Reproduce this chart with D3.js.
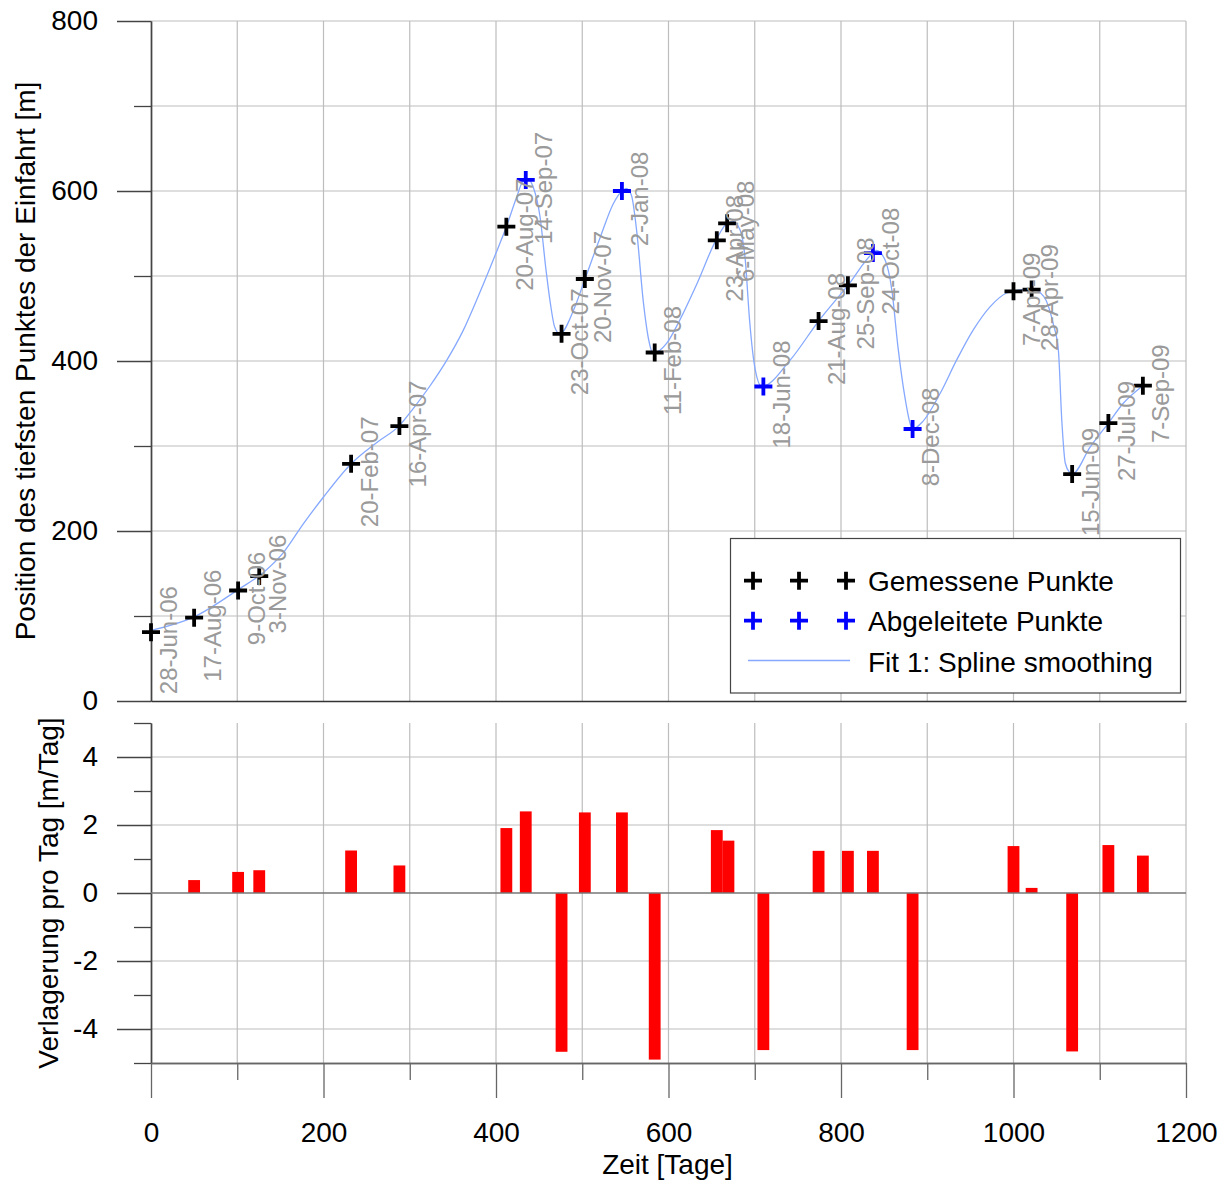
<!DOCTYPE html>
<html><head><meta charset="utf-8">
<script src="https://cdn.jsdelivr.net/npm/d3@7"></script>
<style>
body{margin:0;background:#fff}
svg{display:block}
text{font-family:"Liberation Sans",Arial,Helvetica,sans-serif}
</style>
</head><body>
<svg id="c" width="1227" height="1180"></svg>
<script>
// ---------- data ----------
const measuredDays   = [0, 50, 101, 125.5, 232, 288, 412, 476, 503, 584, 656, 668, 774, 808, 1000, 1021, 1068, 1110, 1150];
const measuredValues = [81, 98, 130, 147, 279, 323.5, 558, 432, 496.5, 410, 542, 562, 447, 489, 482, 484, 267, 327, 371];
const measuredLabels = ["28-Jun-06","17-Aug-06","9-Oct-06","3-Nov-06","20-Feb-07","16-Apr-07","20-Aug-07","23-Oct-07","20-Nov-07","11-Feb-08","23-Apr-08","6-May-08","21-Aug-08","25-Sep-08","7-Apr-09","28-Apr-09","15-Jun-09","27-Jul-09","7-Sep-09"];

const derivedDays   = [434.5, 546, 710, 837, 883];
const derivedValues = [613, 600, 370, 527, 320];
const derivedLabels = ["14-Sep-07","2-Jan-08","18-Jun-08","24-Oct-08","8-Dec-08"];

const fitDays   = [0, 50, 101, 130, 153, 177, 200, 231, 263, 288, 304, 323, 343, 362, 381, 400, 412, 424, 431, 437, 443, 451, 458, 463, 468, 474, 490, 503, 521, 536, 546, 551, 557, 563, 571, 577, 582, 598, 613, 633, 656, 668, 675, 683, 689, 694, 700, 708, 741, 774, 808, 837, 841, 851, 859, 866, 874, 880, 883, 895, 915, 934, 953, 973, 992, 1000, 1021, 1035, 1046, 1052, 1056, 1060, 1065, 1068, 1089, 1110, 1127, 1150];
const fitValues = [83, 99, 131, 151, 174, 209, 240, 278, 305, 324, 344, 370, 401, 436, 480, 527, 558, 593, 611, 614, 605, 570, 507, 468, 440, 432, 460, 496, 546, 585, 600, 603, 595, 554, 468, 425, 409, 421, 448, 491, 544, 562, 564, 554, 519, 448, 393, 370, 401, 447, 489, 527, 530, 519, 483, 417, 358, 327, 320, 329, 362, 401, 436, 464, 480, 482, 485, 476, 444, 413, 330, 280, 269, 267, 299, 327, 350, 371];

const barDays   = [50, 101, 125.5, 232, 288, 412, 434.5, 476, 503, 546, 584, 656, 669.5, 710, 774, 808, 837, 883, 1000, 1021, 1068, 1110, 1150];
const barValues = [0.38, 0.62, 0.67, 1.25, 0.81, 1.91, 2.40, -4.67, 2.37, 2.37, -4.90, 1.85, 1.54, -4.62, 1.24, 1.24, 1.24, -4.62, 1.38, 0.15, -4.66, 1.41, 1.10];
const barWidthDays = 13.7;

const xTicksMajor = [0, 200, 400, 600, 800, 1000, 1200];
const xTicksMinor = [100, 300, 500, 700, 900, 1100];
const yTopMajor = [0, 200, 400, 600, 800];
const yTopMinor = [100, 300, 500, 700];
const yBotMajor = [-4, -2, 0, 2, 4];
const yBotMinor = [-5, -3, -1, 1, 3, 5];

const legendLabels = ["Gemessene Punkte", "Abgeleitete Punkte", "Fit 1: Spline smoothing"];

// ---------- scales ----------
const svg = d3.select("#c");
const x = d3.scaleLinear().domain([0, 1200]).range([151, 1186]);
const yTop = d3.scaleLinear().domain([0, 800]).range([701, 21]);
const yBot = d3.scaleLinear().domain([-5, 5]).range([1063, 723]);

const gridColor = "#bdbdbd";
const FS = 28;
const fmt = d => String(d);

// ---------- top panel grid ----------
const gTop = svg.append("g");
gTop.selectAll("line.vg").data(d3.range(100, 1201, 100)).join("line")
  .attr("x1", d => x(d)).attr("x2", d => x(d))
  .attr("y1", yTop(800)).attr("y2", yTop(0))
  .attr("stroke", gridColor).attr("stroke-width", 1.2);
gTop.selectAll("line.hg").data(d3.range(100, 801, 100)).join("line")
  .attr("x1", x(0)).attr("x2", x(1200))
  .attr("y1", d => yTop(d)).attr("y2", d => yTop(d))
  .attr("stroke", gridColor).attr("stroke-width", 1.2);

// ---------- bottom panel grid ----------
const gBot = svg.append("g");
gBot.selectAll("line.vg").data(d3.range(100, 1201, 100)).join("line")
  .attr("x1", d => x(d)).attr("x2", d => x(d))
  .attr("y1", yBot(5)).attr("y2", yBot(-5))
  .attr("stroke", gridColor).attr("stroke-width", 1.2);
gBot.selectAll("line.hg").data([-4, -2, 2, 4]).join("line")
  .attr("x1", x(0)).attr("x2", x(1200))
  .attr("y1", d => yBot(d)).attr("y2", d => yBot(d))
  .attr("stroke", gridColor).attr("stroke-width", 1.2);

// ---------- axes ----------
function styleAxis(g, color) {
  g.selectAll("path.domain").attr("stroke", color).attr("stroke-width", 1.4);
  g.selectAll(".tick line").attr("stroke", color).attr("stroke-width", 1.3);
  g.selectAll(".tick text").attr("font-size", FS).attr("fill", "#000")
    .attr("font-family", '"Liberation Sans",Arial,Helvetica,sans-serif');
}
// top y
svg.append("g").attr("transform", `translate(${x(0)},0)`)
  .call(d3.axisLeft(yTop).tickValues(yTopMajor).tickFormat(fmt).tickSize(34).tickPadding(19).tickSizeOuter(0))
  .call(g => styleAxis(g, "#444"));
svg.append("g").attr("transform", `translate(${x(0)},0)`)
  .call(d3.axisLeft(yTop).tickValues(yTopMinor).tickSize(17).tickFormat("").tickSizeOuter(0))
  .call(g => styleAxis(g, "#444"));
// top x baseline
svg.append("g").attr("transform", `translate(0,${yTop(0)})`)
  .call(d3.axisBottom(x).tickValues([]).tickSizeOuter(0))
  .call(g => styleAxis(g, "#333"));

// bottom y
svg.append("g").attr("transform", `translate(${x(0)},0)`)
  .call(d3.axisLeft(yBot).tickValues(yBotMajor).tickFormat(fmt).tickSize(34).tickPadding(19).tickSizeOuter(0))
  .call(g => styleAxis(g, "#444"));
svg.append("g").attr("transform", `translate(${x(0)},0)`)
  .call(d3.axisLeft(yBot).tickValues(yBotMinor).tickSize(17).tickFormat("").tickSizeOuter(0))
  .call(g => styleAxis(g, "#444"));
// bottom x
svg.append("g").attr("transform", `translate(0,${yBot(-5)})`)
  .call(d3.axisBottom(x).tickValues(xTicksMajor).tickFormat(fmt).tickSize(35).tickPadding(24).tickSizeOuter(0))
  .call(g => styleAxis(g, "#666"));
svg.append("g").attr("transform", `translate(0,${yBot(-5)})`)
  .call(d3.axisBottom(x).tickValues(xTicksMinor).tickSize(17).tickFormat("").tickSizeOuter(0))
  .call(g => styleAxis(g, "#666"));

// ---------- bars ----------
const bw = x(barWidthDays) - x(0);
svg.append("g").selectAll("rect").data(barDays.map((d, i) => ({d, v: barValues[i]}))).join("rect")
  .attr("x", p => x(p.d) - bw / 2)
  .attr("width", bw)
  .attr("y", p => yBot(Math.max(0, p.v)))
  .attr("height", p => Math.abs(yBot(p.v) - yBot(0)))
  .attr("fill", "#ff0000");

// zero line
svg.append("line").attr("x1", x(0)).attr("x2", x(1200))
  .attr("y1", yBot(0)).attr("y2", yBot(0))
  .attr("stroke", "#777").attr("stroke-width", 1.5);

// ---------- fit curve ----------
const fitLine = d3.line().x(d => x(d[0])).y(d => yTop(d[1])).curve(d3.curveMonotoneX);
svg.append("path").datum(fitDays.map((d, i) => [d, fitValues[i]]))
  .attr("d", fitLine).attr("fill", "none")
  .attr("stroke", "#86a9ff").attr("stroke-width", 1.3);

// ---------- markers ----------
function plus(cx, cy, r) { return `M${cx - r},${cy}H${cx + r}M${cx},${cy - r}V${cy + r}`; }
svg.append("g").selectAll("path").data(measuredDays.map((d, i) => [d, measuredValues[i]])).join("path")
  .attr("d", p => plus(x(p[0]), yTop(p[1]), 9))
  .attr("stroke", "#000").attr("stroke-width", 3.8).attr("fill", "none");
svg.append("g").selectAll("path").data(derivedDays.map((d, i) => [d, derivedValues[i]])).join("path")
  .attr("d", p => plus(x(p[0]), yTop(p[1]), 9))
  .attr("stroke", "#0000ff").attr("stroke-width", 3.8).attr("fill", "none");

// ---------- date labels ----------
const allLabels = measuredDays.map((d, i) => ({d, v: measuredValues[i], t: measuredLabels[i]}))
  .concat(derivedDays.map((d, i) => ({d, v: derivedValues[i], t: derivedLabels[i]})));
svg.append("g").selectAll("text").data(allLabels).join("text")
  .attr("transform", p => `translate(${x(p.d) + 18},${yTop(p.v) + 8}) rotate(-90)`)
  .attr("text-anchor", "middle").attr("dy", "0.35em")
  .attr("font-size", 24).attr("fill", "#9a9a9a")
  .text(p => p.t);

// ---------- legend ----------
const lg = svg.append("g");
lg.append("rect").attr("x", 730.5).attr("y", 538.5).attr("width", 450).attr("height", 154.5)
  .attr("fill", "#fff").attr("stroke", "#444").attr("stroke-width", 1.2);
[753, 799, 846].forEach(mx => {
  lg.append("path").attr("d", plus(mx, 580.7, 9)).attr("stroke", "#000").attr("stroke-width", 3.8);
  lg.append("path").attr("d", plus(mx, 620.7, 9)).attr("stroke", "#0000ff").attr("stroke-width", 3.8);
});
lg.append("line").attr("x1", 748).attr("x2", 850).attr("y1", 660.5).attr("y2", 660.5)
  .attr("stroke", "#86a9ff").attr("stroke-width", 1.3);
lg.selectAll("text").data(legendLabels).join("text")
  .attr("x", 868).attr("y", (d, i) => 590.7 + i * 40.5)
  .attr("font-size", FS).attr("fill", "#000").text(d => d);

// ---------- titles ----------
svg.append("text").attr("transform", `translate(35,${(yTop(0) + yTop(800)) / 2}) rotate(-90)`)
  .attr("text-anchor", "middle").attr("font-size", FS)
  .text("Position des tiefsten Punktes der Einfahrt [m]");
svg.append("text").attr("transform", `translate(58,${(yBot(-5) + yBot(5)) / 2}) rotate(-90)`)
  .attr("text-anchor", "middle").attr("font-size", FS)
  .text("Verlagerung pro Tag [m/Tag]");
svg.append("text").attr("x", (x(0) + x(1200)) / 2 - 1).attr("y", 1174)
  .attr("text-anchor", "middle").attr("font-size", FS)
  .text("Zeit [Tage]");
</script>
</body></html>
